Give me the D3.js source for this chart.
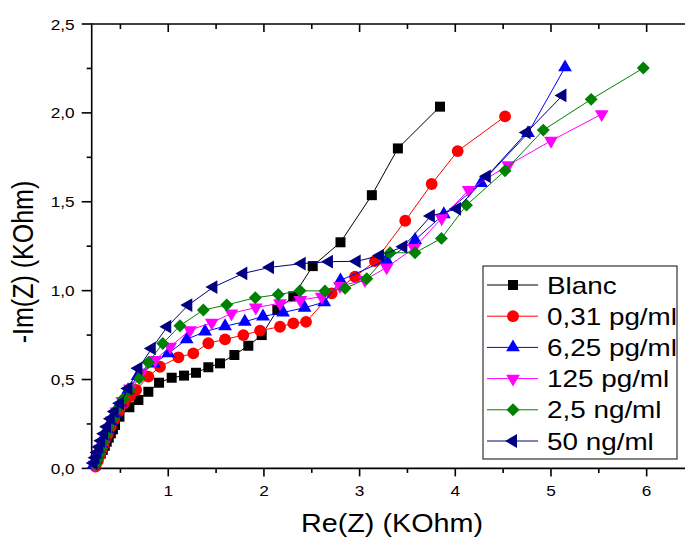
<!DOCTYPE html>
<html><head><meta charset="utf-8">
<script src="https://cdn.jsdelivr.net/npm/d3@7"></script>
<style>html,body{margin:0;padding:0;background:#fff;overflow:hidden}</style>
</head><body>
<svg id="c" width="685" height="538"></svg>
<script>
const seriesNames = ["Blanc","0,31 pg/ml","6,25 pg/ml","125 pg/ml","2,5 ng/ml","50 ng/ml"];
const blanc = [[0.245,0.02],[0.27,0.057],[0.295,0.083],[0.316,0.104],[0.337,0.127],[0.357,0.15],[0.378,0.173],[0.40,0.197],[0.422,0.22],[0.444,0.244],[0.49,0.291],[0.594,0.344],[0.688,0.385],[0.792,0.431],[0.904,0.482],[1.036,0.51],[1.165,0.522],[1.29,0.538],[1.419,0.569],[1.541,0.591],[1.691,0.638],[1.837,0.69],[1.977,0.75],[2.14,0.891],[2.307,0.968],[2.51,1.138],[2.80,1.272],[3.128,1.537],[3.40,1.80],[3.84,2.035]];
const pg031 = [[0.24,0.01],[0.26,0.04],[0.28,0.07],[0.30,0.10],[0.32,0.13],[0.345,0.165],[0.37,0.195],[0.40,0.235],[0.435,0.275],[0.48,0.32],[0.535,0.365],[0.60,0.405],[0.664,0.441],[0.792,0.516],[0.914,0.572],[1.106,0.625],[1.262,0.647],[1.419,0.704],[1.594,0.726],[1.785,0.75],[1.96,0.775],[2.168,0.797],[2.307,0.816],[2.44,0.824],[2.708,0.985],[2.952,1.078],[3.161,1.166],[3.477,1.393],[3.753,1.60],[4.025,1.785],[4.52,1.98]];
const pg625 = [[0.22,0.02],[0.24,0.05],[0.26,0.08],[0.28,0.11],[0.30,0.14],[0.33,0.18],[0.36,0.22],[0.40,0.265],[0.44,0.31],[0.50,0.37],[0.58,0.44],[0.68,0.52],[0.85,0.59],[1.0,0.647],[1.193,0.726],[1.385,0.77],[1.594,0.80],[1.80,0.825],[1.99,0.855],[2.20,0.877],[2.425,0.904],[2.63,0.935],[2.80,1.058],[3.28,1.172],[3.58,1.285],[3.88,1.43],[4.27,1.605],[4.76,1.886],[5.147,2.256]];
const pg125 = [[0.23,0.02],[0.25,0.05],[0.27,0.08],[0.29,0.11],[0.31,0.14],[0.34,0.18],[0.37,0.22],[0.41,0.27],[0.46,0.32],[0.52,0.38],[0.60,0.45],[0.72,0.54],[0.862,0.61],[1.02,0.685],[1.228,0.778],[1.455,0.82],[1.66,0.872],[1.915,0.905],[2.168,0.929],[2.38,0.947],[2.604,0.966],[2.795,1.026],[3.056,1.06],[3.283,1.131],[3.57,1.24],[3.858,1.407],[4.14,1.566],[4.554,1.706],[5.0,1.843],[5.53,1.993]];
const ng25 = [[0.24,0.02],[0.26,0.05],[0.28,0.08],[0.30,0.11],[0.32,0.15],[0.35,0.19],[0.38,0.23],[0.42,0.28],[0.47,0.335],[0.53,0.39],[0.60,0.44],[0.698,0.507],[0.792,0.596],[0.943,0.703],[1.123,0.803],[1.367,0.891],[1.611,0.92],[1.91,0.96],[2.15,0.978],[2.377,0.999],[2.638,0.998],[2.848,1.013],[3.074,1.067],[3.318,1.213],[3.579,1.213],[3.855,1.294],[4.117,1.481],[4.52,1.675],[4.92,1.903],[5.42,2.076],[5.965,2.252]];
const ng50 = [[0.22,0.03],[0.24,0.06],[0.26,0.09],[0.28,0.12],[0.30,0.155],[0.33,0.195],[0.36,0.235],[0.40,0.28],[0.44,0.32],[0.496,0.366],[0.583,0.45],[0.688,0.563],[0.828,0.675],[0.99,0.797],[1.21,0.919],[1.472,1.02],[1.785,1.097],[2.064,1.131],[2.395,1.152],[2.68,1.163],[2.97,1.165],[3.213,1.197],[3.457,1.247],[3.745,1.42],[4.018,1.46],[4.33,1.643],[4.746,1.89],[5.12,2.098]];
const xMajor = [1,2,3,4,5,6];
const xMinor = [0.5,1.5,2.5,3.5,4.5,5.5];
const yMajor = [0,0.5,1.0,1.5,2.0,2.5];
const yMinor = [0.25,0.75,1.25,1.75,2.25];
const xTitle = "Re(Z) (KOhm)";
const yTitle = "-Im(Z) (KOhm)";

const colors = ["#000000","#ff0000","#0000ff","#ff00ff","#008000","#000080"];
const shapes = [
  {t:d3.symbolSquare, s:100, r:0},
  {t:d3.symbolCircle, s:110, r:0},
  {t:d3.symbolTriangle, s:82, r:0},
  {t:d3.symbolTriangle, s:82, r:180},
  {t:d3.symbolSquare, s:84, r:45},
  {t:d3.symbolTriangle, s:82, r:-90}
];
const allData = [blanc,pg031,pg625,pg125,ng25,ng50];

const svg = d3.select("#c");
const FONT = "'Liberation Sans', Arial, sans-serif";
const SX = 1.15;
const x = d3.scaleLinear().domain([0.2,6.5]).range([91.7,694.5]);
const y = d3.scaleLinear().domain([0,2.5]).range([468.4,24]);

const g = svg.append("g");
const axisW = 1.6;
g.append("line").attr("x1",x(0.2)).attr("x2",685).attr("y1",y(0)).attr("y2",y(0)).attr("stroke","#000").attr("stroke-width",axisW);
g.append("line").attr("x1",x(0.2)).attr("x2",685).attr("y1",y(2.5)).attr("y2",y(2.5)).attr("stroke","#000").attr("stroke-width",axisW);
g.append("line").attr("x1",x(0.2)).attr("x2",x(0.2)).attr("y1",y(0)+0.8).attr("y2",y(2.5)-0.8).attr("stroke","#000").attr("stroke-width",axisW);

xMajor.forEach(v=>{
  g.append("line").attr("x1",x(v)).attr("x2",x(v)).attr("y1",y(0)).attr("y2",y(0)+8).attr("stroke","#000").attr("stroke-width",axisW);
  g.append("line").attr("x1",x(v)).attr("x2",x(v)).attr("y1",y(2.5)).attr("y2",y(2.5)+8).attr("stroke","#000").attr("stroke-width",axisW);
  g.append("text").attr("transform",`translate(${x(v)},${y(0)+28}) scale(${SX},1)`).attr("text-anchor","middle")
    .attr("font-family",FONT).attr("font-size",15).text(v);
});
xMinor.forEach(v=>{
  g.append("line").attr("x1",x(v)).attr("x2",x(v)).attr("y1",y(0)).attr("y2",y(0)+4.5).attr("stroke","#000").attr("stroke-width",axisW);
  g.append("line").attr("x1",x(v)).attr("x2",x(v)).attr("y1",y(2.5)).attr("y2",y(2.5)+5).attr("stroke","#000").attr("stroke-width",axisW);
});
yMajor.forEach(v=>{
  g.append("line").attr("x1",x(0.2)-10).attr("x2",x(0.2)).attr("y1",y(v)).attr("y2",y(v)).attr("stroke","#000").attr("stroke-width",axisW);
  g.append("text").attr("transform",`translate(${x(0.2)-17},${y(v)+5.5}) scale(${SX},1)`).attr("text-anchor","end")
    .attr("font-family",FONT).attr("font-size",15).text(v.toFixed(1).replace(".",","));
});
yMinor.forEach(v=>{
  g.append("line").attr("x1",x(0.2)-5).attr("x2",x(0.2)).attr("y1",y(v)).attr("y2",y(v)).attr("stroke","#000").attr("stroke-width",axisW);
});

g.append("text").attr("transform",`translate(392,532) scale(${SX},1)`).attr("text-anchor","middle")
  .attr("font-family",FONT).attr("font-size",25).text(xTitle);
g.append("text").attr("transform",`translate(33,262) scale(${SX},1) rotate(-90)`).attr("text-anchor","middle")
  .attr("font-family",FONT).attr("font-size",25).text(yTitle);

const line = d3.line().x(d=>x(d[0])).y(d=>y(d[1]));
allData.forEach((data,i)=>{
  const sg = svg.append("g");
  sg.append("path").datum(data).attr("d",line).attr("fill","none").attr("stroke",colors[i]).attr("stroke-width",1);
  const sym = d3.symbol().type(shapes[i].t).size(shapes[i].s);
  sg.selectAll("path.m").data(data).join("path").attr("class","m")
    .attr("d",sym).attr("fill",colors[i])
    .attr("transform",d=>`translate(${x(d[0])},${y(d[1])}) rotate(${shapes[i].r})`);
});

const lg = svg.append("g");
lg.append("rect").attr("x",483).attr("y",266).attr("width",194).attr("height",193)
  .attr("fill","#fff").attr("stroke","#333").attr("stroke-width",1.2);
seriesNames.forEach((n,i)=>{
  const ry = 285 + i*31.2;
  lg.append("line").attr("x1",487).attr("x2",538).attr("y1",ry).attr("y2",ry).attr("stroke",colors[i]).attr("stroke-width",1);
  lg.append("path").attr("d",d3.symbol().type(shapes[i].t).size(shapes[i].s)())
    .attr("fill",colors[i]).attr("transform",`translate(513,${ry}) rotate(${shapes[i].r})`);
  lg.append("text").attr("transform",`translate(547,${ry+8.6}) scale(1.16,1)`)
    .attr("font-family",FONT).attr("font-size",24).text(n);
});
</script>
</body></html>
